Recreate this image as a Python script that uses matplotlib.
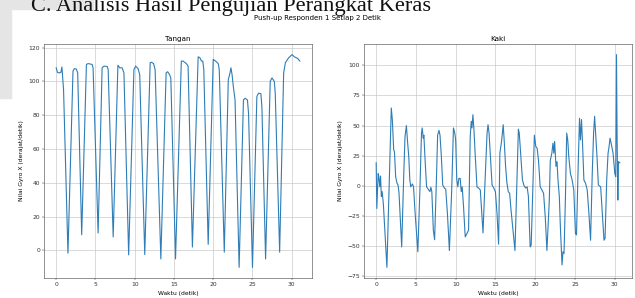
import matplotlib
matplotlib.use('Agg')
import matplotlib.pyplot as plt
import matplotlib.patches as patches

# Tangan: time (s) and gyro X (deg/s), vertices
tangan_t = [0.0, 0.17, 0.38, 0.6, 0.73, 0.8, 0.94, 1.5,
            2.14, 2.3, 2.56, 2.74, 3.25,
            3.85, 4.06, 4.3, 4.57, 4.7, 5.34,
            5.85, 6.07, 6.5, 6.62, 7.26,
            7.86, 8.1, 8.4, 8.63, 9.23,
            9.9, 10.13, 10.43, 10.64, 11.28,
            11.97, 12.14, 12.4, 12.6, 13.33,
            14.0, 14.2, 14.44, 14.6, 15.2,
            15.94, 16.15, 16.58, 16.8, 17.35,
            18.08, 18.3, 18.5, 18.67, 18.8, 19.36,
            20.0, 20.3, 20.64, 20.77, 21.41,
            21.92, 22.14, 22.26, 22.4, 22.56, 22.78, 23.3,
            23.85, 24.06, 24.36, 24.5, 25.0,
            25.56, 25.77, 26.07, 26.2, 26.67,
            27.26, 27.48, 27.78, 27.9, 28.46,
            28.97, 29.19, 29.6, 30.04, 30.34, 30.77, 31.03]
tangan_v = [108, 105.3, 105, 105.3, 108.5, 104, 95, -1.6,
            106, 107.5, 107.3, 105, 9.3,
            110, 110.5, 110.3, 110, 108, 10.3,
            108, 109, 108.8, 107, 8,
            109.5, 108, 108, 105, -2.6,
            107, 109, 107.5, 104, -2.4,
            111, 111.3, 110.5, 107, -5,
            105, 105.7, 104, 102, -5,
            112, 112, 110.5, 109, 2,
            114.5, 114, 112, 112, 107, 3.6,
            113, 112, 110.5, 107, -1,
            101, 105, 108, 104, 97, 89, -10,
            89, 90, 89, 81, -10,
            91, 93, 92.7, 85, -5,
            100, 102, 100, 93, -1,
            105, 111, 113.9, 115.8, 114.5, 113.5, 112]

# Kaki: time (s) and gyro X (deg/s)
kaki_t = [0.0, 0.08, 0.25, 0.32, 0.45, 0.55, 0.65, 0.75, 0.9, 1.35,
          1.9, 2.03, 2.2, 2.3, 2.45, 2.62, 2.75, 2.87, 3.04, 3.21,
          3.47, 3.63, 3.8, 3.93, 4.1, 4.23, 4.35, 4.56, 4.7, 4.9, 5.24,
          5.5, 5.7, 5.79, 5.92, 6.0, 6.13, 6.34, 6.55, 6.76, 6.88, 7.0, 7.19, 7.35,
          7.6, 7.73, 7.9, 8.03, 8.2, 8.37, 8.58, 8.75, 8.96, 9.21,
          9.5, 9.72, 9.89, 10.0, 10.14, 10.27, 10.4, 10.57, 10.7, 10.82, 10.99, 11.2, 11.41, 11.62,
          11.83, 11.96, 12.05, 12.17, 12.3, 12.47, 12.68, 12.89, 13.1, 13.31, 13.44,
          13.7, 13.95, 14.07, 14.2, 14.37, 14.58, 14.79, 15.0, 15.2, 15.4,
          15.56, 15.77, 15.98, 16.1, 16.28, 16.45, 16.62, 16.79, 16.96, 17.25, 17.46,
          17.68, 17.89, 18.0, 18.2, 18.4, 18.6, 18.8, 18.99, 19.15, 19.37, 19.5,
          19.7, 19.9, 20.08, 20.25, 20.42, 20.63, 20.85, 21.06, 21.27, 21.48,
          21.78, 21.9, 22.1, 22.24, 22.35, 22.45, 22.62, 22.75, 22.87, 23.04, 23.17, 23.38, 23.5, 23.63,
          23.8, 23.97, 24.1, 24.23, 24.44, 24.65, 24.86, 25.07, 25.2,
          25.41, 25.58, 25.7, 25.83, 25.96, 26.13, 26.34, 26.55, 26.76, 26.97,
          27.18, 27.35, 27.48, 27.6, 27.78, 27.95, 28.24, 28.45, 28.66, 28.79,
          29.0, 29.17, 29.3, 29.42, 29.6, 29.8, 30.02, 30.14, 30.23, 30.31, 30.4, 30.48, 30.65]
kaki_v = [19, -19, 10, 8, -1, 8, -9, -5, -15, -68,
          64.6, 55, 30, 28, 7.5, 2, 0.5, -6, -28.7, -51,
          10, 41, 50, 38, 24, 5, -1, 1.4, -1, -23, -55,
          -3.6, 43.7, 48, 39.5, 42, 24, -1, -3, -5, -1.4, -5, -37, -45,
          10, 42, 46, 42, 24, 0.5, -2, -3, -23, -54,
          -3.6, 48, 43.7, 38, 5, -1, 6, 6, -5, -1, -17.5, -42.6, -40, -37,
          41, 53.5, 48, 59, 46.5, 24, -1, -2, -3.6, -26, -39.3,
          4.7, 43.7, 50.7, 43.7, 24, 0.5, -2, -5, -23, -48.7,
          27, 36.8, 50.7, 38, 16, 2, -5, -6.4, -20, -40, -54,
          -3.6, 47, 43.7, 24, 4.7, 0, -2, -1, -9, -51, -49.6,
          -3.6, 42, 32.6, 31, 21, -1, -3.6, -6.4, -26, -54,
          -12, 21, 27, 35.4, 27, 36.8, 16, 20, 4.7, -9, -34, -66, -55, -56.5,
          -12, 43.7, 38, 24, 10, 4.7, -3.6, -40, -41,
          16, 56, 38, 55, 35, 4.7, 2, -3.6, -23, -45.4,
          10, 43.7, 57.7, 43.7, 24, 0.5, -1, -23, -45.4, -44,
          4.7, 27, 32.6, 39.5, 34, 27, 10, 7.5, 109, 38, -12, 20, 19]

suptitle = 'Push-up Responden 1 Setiap 2 Detik'
titles = ['Tangan', 'Kaki']
xlabel = 'Waktu (detik)'
ylabel = 'Nilai Gyro X (derajat/detik)'
doc_heading = 'C. Analisis Hasil Pengujian Perangkat Keras'

W, H = 635, 298
fig = plt.figure(figsize=(W / 100, H / 100), dpi=100)

# page background bits from the document screenshot
gray = '#e5e5e5'
fig.patches.append(patches.Rectangle((0, 1 - 98 / H), 11 / W, 98 / H, transform=fig.transFigure,
                                     color=gray, zorder=0))
fig.patches.append(patches.Rectangle((0, 1 - 9 / H), 93 / W, 9 / H, transform=fig.transFigure,
                                     color=gray, zorder=0))
fig.text(31 / W, 1 - 11 / H, doc_heading, family='Liberation Serif', fontsize=16.1,
         va='baseline', ha='left', color='#111111')

fig.suptitle(suptitle, fontsize=5.0, y=1 - 18 / H, va='center')

line_color = '#2e7db6'
bottom = 1 - 278 / H
height = 234 / H
ax1 = fig.add_axes([44 / W, bottom, 268 / W, height])
ax2 = fig.add_axes([364 / W, bottom, 268 / W, height])

for ax, t, v, title in [(ax1, tangan_t, tangan_v, titles[0]), (ax2, kaki_t, kaki_v, titles[1])]:
    ax.plot(t, v, color=line_color, lw=0.8)
    ax.set_title(title, fontsize=5.2, pad=2.5)
    ax.set_xlabel(xlabel, fontsize=4.3, labelpad=3)
    ax.set_ylabel(ylabel, fontsize=4.3, labelpad=3.5)
    ax.grid(True, color='#c4c4c4', lw=0.45)
    ax.tick_params(labelsize=4.3, length=1.4, width=0.35, pad=1.4, colors='#333333')
    for s in ax.spines.values():
        s.set_linewidth(0.45)
        s.set_color('#555555')

ax2.set_yticks([-75, -50, -25, 0, 25, 50, 75, 100])

fig.savefig('out.png', dpi=100)
